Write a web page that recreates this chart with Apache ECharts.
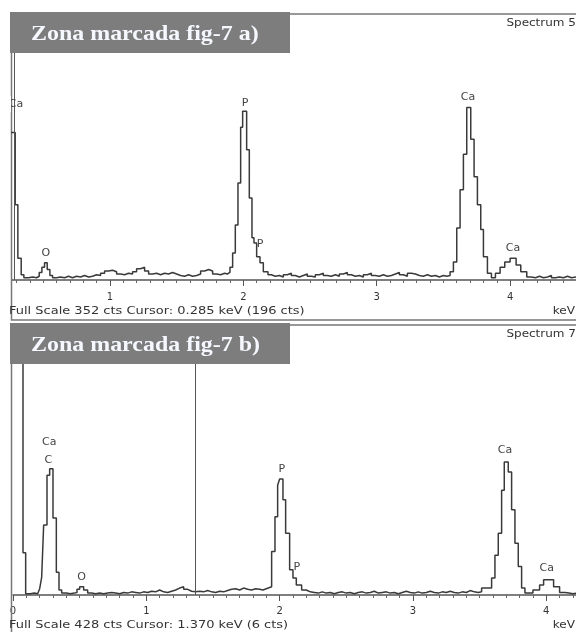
<!DOCTYPE html>
<html><head><meta charset="utf-8">
<script src="https://cdn.jsdelivr.net/npm/echarts@6/dist/echarts.min.js"></script>
<style>html,body{margin:0;padding:0;background:#fff;}#c{width:576px;height:632px;}</style>
</head><body><div id="c"></div>
<script>
// ---- Panel a (Spectrum 5) : [keV, counts] ----
const specA = [
[0.20,196],[0.29,100],[0.31,29],[0.335,7],[0.355,3],[0.39,4],[0.42,3],[0.45,5],[0.47,10],[0.49,17],[0.51,23],[0.53,14],[0.55,6],[0.57,3],
[0.60,4],[0.63,3],[0.66,5],[0.69,3],[0.72,5],[0.75,4],[0.78,6],[0.81,4],[0.84,5],[0.87,7],[0.90,6],[0.93,9],[0.96,12],[0.99,13],
[1.02,11],[1.05,8],[1.08,7],[1.11,9],[1.14,8],[1.17,11],[1.20,15],[1.23,17],[1.26,12],[1.29,8],[1.32,9],[1.35,7],[1.38,9],[1.41,8],
[1.44,10],[1.47,8],[1.50,6],[1.53,5],[1.56,7],[1.59,5],[1.62,6],[1.65,8],[1.68,12],[1.71,14],[1.74,12],[1.77,8],[1.80,7],[1.83,9],
[1.86,8],[1.88,10],[1.90,17],[1.92,36],[1.94,73],[1.96,129],[1.98,203],[1.995,224],[2.025,173],[2.045,109],[2.065,56],[2.08,49],
[2.10,31],[2.125,23],[2.15,11],[2.185,7],[2.21,5],[2.24,6],[2.27,4],[2.30,7],[2.33,9],[2.36,6],[2.39,4],[2.42,6],[2.45,8],[2.48,5],
[2.51,4],[2.54,7],[2.57,9],[2.60,6],[2.63,5],[2.66,7],[2.69,5],[2.72,8],[2.75,10],[2.78,7],[2.81,5],[2.84,6],[2.87,4],[2.90,7],
[2.93,9],[2.96,6],[2.99,5],[3.02,7],[3.05,5],[3.08,6],[3.11,8],[3.14,10],[3.17,7],[3.20,5],[3.23,9],[3.26,8],[3.29,6],[3.32,5],
[3.35,7],[3.38,5],[3.41,6],[3.44,4],[3.47,6],[3.50,5],[3.525,6],[3.55,11],[3.575,24],[3.60,69],[3.625,120],[3.65,167],[3.675,229],
[3.705,187],[3.73,137],[3.755,100],[3.78,67],[3.80,31],[3.83,9],[3.86,3],[3.89,9],[3.925,17],[3.96,24],[4.00,29],[4.045,20],
[4.08,11],[4.125,4],[4.16,3],[4.19,5],[4.22,3],[4.25,4],[4.28,6],[4.31,3],[4.34,4],[4.37,3],[4.40,5],[4.43,3],[4.46,4],[4.50,3]
];
// ---- Panel b (Spectrum 7) ----
const specB = [
[0,1200],[0.075,67],[0.095,2],[0.13,3],[0.16,2],[0.185,5],[0.20,10],[0.215,28],[0.23,111],[0.255,190],[0.275,200],[0.30,122],
[0.325,36],[0.345,8],[0.365,3],[0.40,2],[0.43,3],[0.46,4],[0.48,9],[0.50,13],[0.53,8],[0.56,3],[0.59,2],[0.62,3],[0.65,2],[0.68,3],
[0.71,4],[0.74,3],[0.77,2],[0.80,4],[0.83,3],[0.86,5],[0.89,4],[0.92,3],[0.95,5],[0.98,4],[1.01,6],[1.04,5],[1.07,8],[1.10,5],
[1.13,4],[1.16,6],[1.19,8],[1.22,11],[1.25,13],[1.28,9],[1.31,6],[1.34,5],[1.37,6],[1.40,5],[1.43,7],[1.46,5],[1.49,4],[1.52,6],
[1.55,5],[1.58,7],[1.61,9],[1.64,10],[1.67,8],[1.70,11],[1.73,9],[1.76,8],[1.79,10],[1.82,9],[1.85,8],[1.875,10],[1.90,13],
[1.94,69],[1.965,124],[1.985,174],[2.00,184],[2.025,151],[2.045,98],[2.075,40],[2.10,27],[2.125,16],[2.165,8],[2.20,5],[2.23,4],
[2.26,3],[2.29,5],[2.32,3],[2.35,4],[2.38,2],[2.41,4],[2.44,5],[2.47,3],[2.50,4],[2.53,2],[2.56,4],[2.59,5],[2.62,3],[2.65,4],
[2.68,6],[2.71,3],[2.74,4],[2.77,5],[2.80,3],[2.83,4],[2.86,2],[2.89,4],[2.92,6],[2.95,4],[2.98,3],[3.01,5],[3.04,3],[3.07,4],
[3.10,6],[3.13,4],[3.16,3],[3.19,5],[3.22,4],[3.25,6],[3.28,4],[3.31,3],[3.34,5],[3.37,4],[3.40,7],[3.43,5],[3.46,4],[3.49,5],
[3.515,11],[3.59,27],[3.615,63],[3.64,98],[3.665,166],[3.685,211],[3.715,195],[3.74,135],[3.765,82],[3.79,45],[3.815,11],[3.84,3],
[3.90,8],[3.95,16],[3.98,24],[4.055,13],[4.10,4],[4.14,3],[4.17,2],[4.20,3],[4.23,3]
];
// peak labels: [text, keV, counts]
const labelsA = [["Ca",0.296,234],["O",0.519,36],["P",2.013,235],["P",2.125,48],["Ca",3.684,243],["Ca",4.022,42]];
const labelsB = [["Ca",0.272,243],["C",0.265,214],["O",0.515,29],["P",2.016,199],["P",2.128,44],["Ca",3.691,230],["Ca",4.004,42]];
const majorTicksA = [1,2,3,4];
const majorTicksB = [0,1,2,3,4];
const rangeA = [0.266, 4.494], rangeB = [0, 4.223];
const fullScaleA = 352, fullScaleB = 428;
const cursorA = 0.285, cursorB = 1.37;
const titleA = "Zona marcada fig-7 a)", titleB = "Zona marcada fig-7 b)";
const specNameA = "Spectrum 5", specNameB = "Spectrum 7";
const footerA = "Full Scale 352 cts Cursor: 0.285 keV (196 cts)";
const footerB = "Full Scale 428 cts Cursor: 1.370 keV (6 cts)";

function minorTicks(r){ const out=[]; for(let i=0;i<=46;i++){const v=i/10; if(i%10!==0 && v>=r[0] && v<=r[1]) out.push(v);} return out; }

const FONT = '"DejaVu Sans", sans-serif';
function mainX(grid, r, ticks, margin){
  return {gridIndex:grid, type:'value', min:r[0], max:r[1], position:'bottom',
    axisLine:{show:true, onZero:false, lineStyle:{color:'#555', width:1.5}},
    axisTick:{show:true, customValues:ticks, length:6, lineStyle:{color:'#555', width:1}},
    axisLabel:{show:true, customValues:ticks, color:'#333', fontSize:10, fontFamily:FONT, margin:margin},
    splitLine:{show:false}};
}
function minorX(grid, r){
  return {gridIndex:grid, type:'value', min:r[0], max:r[1], position:'bottom',
    axisLine:{show:false}, axisTick:{show:true, customValues:minorTicks(r), length:3, lineStyle:{color:'#666', width:1}},
    axisLabel:{show:false}, splitLine:{show:false}};
}
function series(idx, data, labels, cursor){
  return {type:'line', xAxisIndex:idx*2, yAxisIndex:idx, data:data, step:'end', showSymbol:false, symbol:'none',
    clip:true, animation:false, lineStyle:{color:'#3a3a3a', width:1.5}, z:3,
    markLine:{silent:true, symbol:['none','none'], label:{show:false}, animation:false,
      lineStyle:{color:'#555', width:1, type:'solid'}, data:[{xAxis:cursor}]},
    markPoint:{silent:true, animation:false, symbol:'circle', symbolSize:1, itemStyle:{color:'rgba(0,0,0,0)'},
      label:{show:true, position:'inside', formatter:'{b}', color:'#444', fontSize:11, fontFamily:FONT},
      data:labels.map(l=>({name:l[0], coord:[l[1], l[2]]}))}
  };
}
function panelGraphics(top, bottom, title, specName, footer, footY){
  return [
    {type:'rect', z:1, shape:{x:11.5, y:top, width:600, height:bottom-top}, style:{fill:'none', stroke:'#777', lineWidth:1.5}},
    {type:'rect', z:20, shape:{x:10, y:top-2, width:280, height:41}, style:{fill:'#7d7d7d'}},
    {type:'text', z:21, x:31, y:top+21, scaleX:1.14, style:{text:title, fill:'#f6f8ff', font:'bold 21px "Liberation Serif", serif', verticalAlign:'middle'}},
    {type:'text', z:21, x:576, y:top+9, scaleX:1.2, style:{text:specName, fill:'#333', font:'10px '+FONT, align:'right', verticalAlign:'middle'}},
    {type:'text', z:21, x:9, y:footY, scaleX:1.18, style:{text:footer, fill:'#333', font:'11px '+FONT, verticalAlign:'middle'}},
    {type:'text', z:21, x:575, y:footY, scaleX:1.1, style:{text:'keV', fill:'#333', font:'11px '+FONT, align:'right', verticalAlign:'middle'}}
  ];
}

const chart = echarts.init(document.getElementById('c'), null, {renderer:'canvas'});
chart.setOption({
  animation:false,
  grid:[{left:12, right:0, top:15, height:265}, {left:13, right:0, top:325, height:270}],
  xAxis:[mainX(0, rangeA, majorTicksA, 12), minorX(0, rangeA), mainX(1, rangeB, majorTicksB, 11), minorX(1, rangeB)],
  yAxis:[{gridIndex:0, type:'value', min:0, max:fullScaleA, show:false},
         {gridIndex:1, type:'value', min:0, max:fullScaleB, show:false}],
  series:[series(0, specA, labelsA, cursorA), series(1, specB, labelsB, cursorB)],
  graphic:[
    ...panelGraphics(14, 320, titleA, specNameA, footerA, 311),
    ...panelGraphics(325, 660, titleB, specNameB, footerB, 625),
    {type:'rect', z:22, shape:{x:0, y:96, width:11, height:16}, style:{fill:'#fff'}}
  ]
});
</script>
</body></html>
